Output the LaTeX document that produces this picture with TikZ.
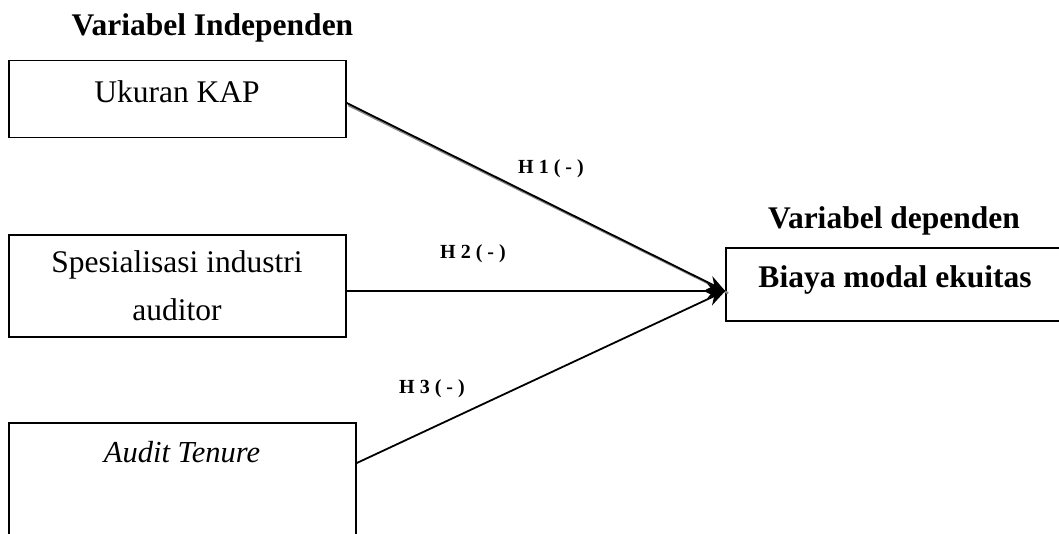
\documentclass[tikz,border=0pt]{standalone}
\usepackage{fontspec}
\setmainfont{Liberation Serif}
\usetikzlibrary{arrows.meta,calc}
\begin{document}
\begin{tikzpicture}[x=1pt,y=-1pt,
  box/.style={draw=black,line width=1.6pt,rectangle,inner sep=0pt},
  big/.style={font=\fontsize{31.5}{36}\selectfont,inner sep=0pt,align=center},
  bigb/.style={font=\fontsize{31.5}{36}\selectfont\bfseries,inner sep=0pt},
  hlab/.style={font=\fontsize{20}{24}\selectfont\bfseries,inner sep=0pt},
  conn/.style={draw=black,line width=1.8pt,-{Stealth[length=18pt,width=15pt]}},
  shadow/.style={draw=black!45,line width=2.2pt}]
\useasboundingbox (0,0) rectangle (1059,533);
\fill[white] (0,0) rectangle (1059,533);
% boxes
\node[box,minimum width=337pt,minimum height=77pt] (b1) at (177.5,99) {};
\node[box,minimum width=337pt,minimum height=102pt] (b2) at (177.5,286) {};
\node[box,minimum width=347pt,minimum height=177pt] (b3) at (182.5,511.5) {};
\node[box,minimum width=345pt,minimum height=73pt] (b4) at (898.5,284.5) {};
% texts
\node[bigb] (t1) at (212.5,28) {Variabel Independen};
\node[big] (u) at (177,92) {Ukuran KAP};
\node[big] (s1) at (177,265) {Spesialisasi industri};
\node[big] (s2) at (177,310) {auditor};
\node[big,font=\fontsize{30.5}{34}\selectfont\itshape] (at) at (182,452) {Audit Tenure};
\node[bigb] (t2) at (894,221) {Variabel dependen};
\node[bigb] (bm) at (895,280) {Biaya modal ekuitas};
% connectors
\coordinate (tip) at (b4.west |- 0,291);
\coordinate (s3) at (b3.east |- 0,463);
\coordinate (s1c) at (b1.east |- 0,103);
\draw[shadow] ($(s1c)+(1.5,2.2)$) -- ($(tip)+(3,2.2)$);
\draw[conn] (s1c) -- (tip);
\draw[conn] (b2.east |- tip) -- (tip);
\draw[conn] (s3) -- (tip);
% labels
\node[hlab] (h1) at (551,169) {H 1 ( - )};
\node[hlab] (h2) at (473,254) {H 2 ( - )};
\node[hlab] (h3) at (432,389) {H 3 ( - )};
\end{tikzpicture}
\end{document}
